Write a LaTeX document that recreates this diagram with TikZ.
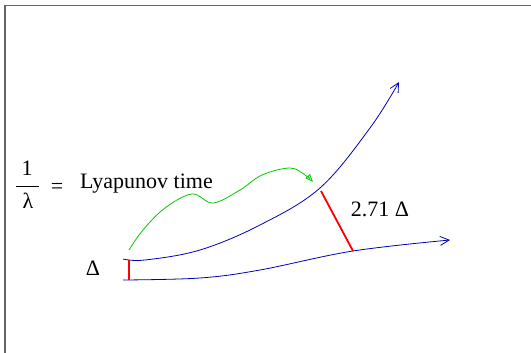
\documentclass[tikz,border=0pt]{standalone}
\usepackage{fontspec}
\setmainfont{Liberation Serif}
\usetikzlibrary{arrows.meta}

\begin{document}
\begin{tikzpicture}[x=1pt,y=-1pt,font=\fontsize{22}{26}\selectfont,
  orbit/.style={blue!70!black, line width=0.8pt, -{Straight Barb[length=9pt,width=9pt]}},
  gap/.style={red, line width=1.8pt}]
\useasboundingbox (0,0) rectangle (531,353);
\draw[gray!80!black, line width=1.6pt] (5,353) -- (5,5.5) -- (531,5.5);
% the two trajectories
\draw[orbit] plot[smooth, tension=0.6] coordinates {(123,259) (145,260) (200,250) (260,225) (320,188) (370,128) (399,82)};
\draw[orbit] plot[smooth, tension=0.6] coordinates {(123,280) (200,278) (260,270) (353,251) (450,240)};
% separations
\coordinate (d0a) at (129,260);
\coordinate (d0b) at (129,280);
\coordinate (d1a) at (321,191);
\coordinate (d1b) at (353,251);
\draw[gap] (d0a) -- (d0b);
\draw[gap] (d1a) -- (d1b);
% elapsed time
\draw[green!80!black, line width=0.8pt, -{Triangle[open,length=8pt,width=6pt]}] plot[smooth, tension=0.6] coordinates {(129,250) (143,230) (165,208) (192,194) (213,203) (240,190) (262,175) (290,168) (305,175) (313,182)};
\node (one) at (27,168) {1};
\node (lambda) at (28,201) {λ};
\coordinate (barl) at (16,186);
\coordinate (barr) at (39,186);
\draw[line width=0.9pt] (barl) -- (barr);
\node (eq) at (57,188) {=};
\node[anchor=base west, inner sep=0pt] (ltime) at (80,188) {Lyapunov time};
\node (delta) at (93,268) {Δ};
\node (grown) at (380,209) {2.71 Δ};
\end{tikzpicture}
\end{document}
